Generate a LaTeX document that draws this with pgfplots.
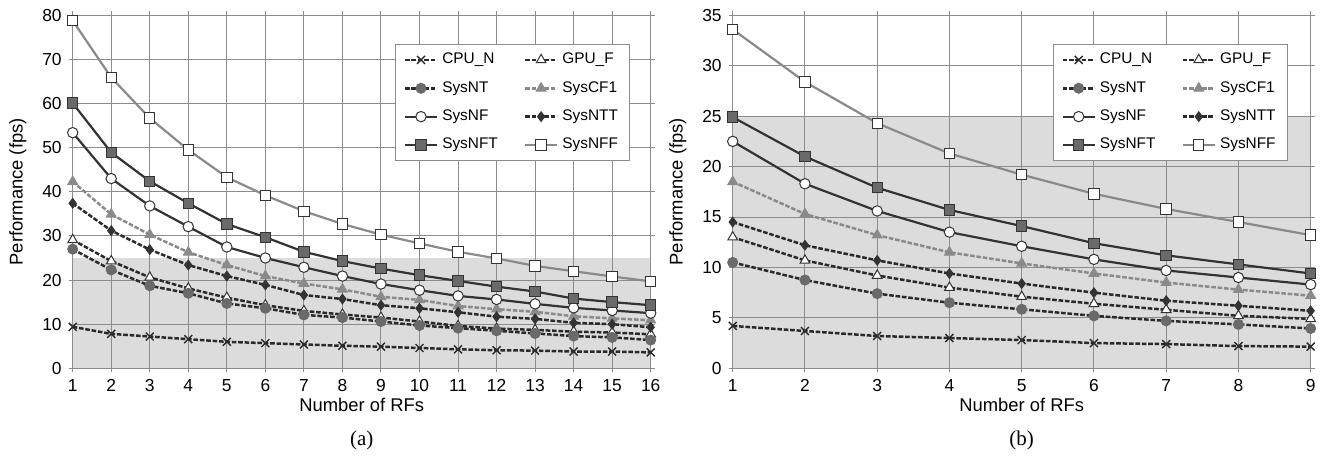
\documentclass[border=0pt]{standalone}
\usepackage{pgfplots}
\usepackage{pgfplotstable}
\usepackage{fontspec}
\setmainfont{Liberation Sans}
\newfontfamily\capfont{Liberation Serif}
\pgfplotsset{compat=1.18}

\definecolor{gridgray}{HTML}{8C8C8C}
\definecolor{shade}{HTML}{DCDCDC}
\definecolor{dk}{HTML}{333333}
\definecolor{dd}{HTML}{2A2A2A}
\definecolor{md}{HTML}{6A6A6A}
\definecolor{lt}{HTML}{8A8A8A}

% (a): frame rate against number of RFs, 1..16
\pgfplotstableread{
x  CPUN  GPUF  SysNT SysCF1 SysNF SysNTT SysNFT SysNFF
1  9.4   29.1  27.0  42.3   53.4  37.4   60.1   78.8
2  7.8   24.3  22.3  34.9   43.0  31.2   48.9   65.9
3  7.2   20.6  18.7  30.3   36.8  26.9   42.4   56.7
4  6.6   18.1  17.0  26.3   32.1  23.4   37.4   49.5
5  6.0   16.0  14.7  23.4   27.5  20.9   32.7   43.3
6  5.7   14.3  13.6  20.9   25.0  18.9   29.7   39.2
7  5.4   13.0  12.1  19.2   22.9  16.6   26.4   35.6
8  5.1   12.2  11.5  17.9   20.9  15.7   24.3   32.7
9  4.9   11.5  10.6  16.2   19.1  14.3   22.6   30.3
10 4.6   10.6  9.7   15.5   17.7  13.6   21.1   28.3
11 4.3   9.6   9.1   14.1   16.4  12.7   19.8   26.4
12 4.1   9.0   8.5   13.4   15.6  11.7   18.5   24.9
13 4.0   8.7   7.9   12.8   14.6  11.2   17.4   23.2
14 3.8   8.3   7.3   11.8   13.7  10.3   15.8   22.0
15 3.8   8.1   7.0   11.3   13.1  10.0   15.0   20.8
16 3.6   7.7   6.4   10.9   12.5  9.3    14.3   19.7
}\dataA

% (b): 1..9
\pgfplotstableread{
x  CPUN  GPUF  SysNT SysCF1 SysNF SysNTT SysNFT SysNFF
1  4.2   13.0  10.5  18.5   22.5  14.5   24.9   33.6
2  3.7   10.7  8.75  15.3   18.3  12.2   21.0   28.4
3  3.2   9.2   7.4   13.2   15.6  10.7   17.9   24.3
4  3.0   8.0   6.5   11.5   13.5  9.4    15.7   21.3
5  2.8   7.1   5.85  10.4   12.1  8.4    14.1   19.2
6  2.5   6.4   5.2   9.4    10.8  7.5    12.4   17.3
7  2.4   5.8   4.7   8.5    9.7   6.7    11.2   15.8
8  2.2   5.2   4.35  7.8    9.0   6.2    10.3   14.5
9  2.15  4.9   3.95  7.2    8.3   5.7    9.4    13.2
}\dataB

\pgfplotsset{
  rfs/.style={
    scale only axis,
    width=289pt, height=176.5pt,
    set layers=standard,
    ymin=0,
    grid=major,
    grid style={gridgray, line width=0.5pt},
    axis line style={gridgray, line width=0.5pt},
    tick style={gridgray, line width=0.5pt},
    tick align=outside, major tick length=2pt,
    xtick distance=1,
    /pgf/number format/assume math mode=true,
    tick label style={font=\fontsize{8.7}{10}\selectfont, black},
    label style={font=\fontsize{9.2}{11}\selectfont},
    xlabel={Number of RFs},
    ylabel={Performance (fps)},
    xlabel style={at={(axis description cs:0.5,-0.105)}, anchor=center},
    ylabel style={at={(axis description cs:-0.095,0.5)}, anchor=center},
    legend columns=2,
    legend cell align=left,
    legend style={draw=gridgray, fill=white, line width=0.5pt,
      font=\fontsize{7.7}{9}\selectfont,
      row sep=3.3pt, inner xsep=4pt, inner ysep=2.5pt,
      /tikz/every even column/.append style={column sep=11pt}},
    legend image code/.code={
      \draw[mark repeat=2, mark phase=2] plot coordinates {(0pt,0pt) (8pt,0pt) (16pt,0pt)};},
    every axis plot/.append style={line width=1.1pt},
  },
  dsh/.style={line width=1.25pt, dash pattern=on 2.3pt off 0.9pt},
  cpun/.style={dd, dsh, mark=x, mark size=2.8pt, mark options={solid, dd, line width=0.7pt}},
  gpuf/.style={dd, dsh, mark=triangle*, mark size=2.8pt, mark options={solid, fill=white, draw=dk, line width=0.5pt}},
  sysnt/.style={dd, dsh, mark=*, mark size=2.5pt, mark options={solid, fill=md, draw=md, line width=0.5pt}},
  syscf/.style={lt, dsh, mark=triangle*, mark size=2.8pt, mark options={solid, fill=lt, draw=lt, line width=0.5pt}},
  sysnf/.style={dk, solid, mark=*, mark size=2.6pt, mark options={fill=white, draw=dk, line width=0.5pt}},
  sysntt/.style={dd, dsh, mark=diamond*, mark size=2.4pt, mark options={solid, fill=dk, draw=dk, line width=0.5pt}},
  sysnft/.style={dk, solid, mark=square*, mark size=2.6pt, mark options={fill=md, draw=dk, line width=0.5pt}},
  sysnff/.style={lt, solid, mark=square*, mark size=2.6pt, mark options={fill=white, draw=dk, line width=0.5pt}},
}

\begin{document}
\begin{tikzpicture}

\begin{axis}[rfs, name=A, at={(0pt,0pt)},
  xmin=1, xmax=16, ymax=80, ytick={0,10,...,80},
  legend style={at={(0.965,0.92)}, anchor=north east}]
  \addplot[draw=none, fill=shade, forget plot, on layer=axis background] coordinates {(1,25) (16,25)} \closedcycle;
  \addplot[cpun]   table[x=x, y=CPUN]   {\dataA}; \addlegendentry{CPU\_N}
  \addplot[gpuf]   table[x=x, y=GPUF]   {\dataA}; \addlegendentry{GPU\_F}
  \addplot[sysnt]  table[x=x, y=SysNT]  {\dataA}; \addlegendentry{SysNT}
  \addplot[syscf]  table[x=x, y=SysCF1] {\dataA}; \addlegendentry{SysCF1}
  \addplot[sysnf]  table[x=x, y=SysNF]  {\dataA}; \addlegendentry{SysNF}
  \addplot[sysntt] table[x=x, y=SysNTT] {\dataA}; \addlegendentry{SysNTT}
  \addplot[sysnft] table[x=x, y=SysNFT] {\dataA}; \addlegendentry{SysNFT}
  \addplot[sysnff] table[x=x, y=SysNFF] {\dataA}; \addlegendentry{SysNFF}
\end{axis}
\node[font=\capfont\fontsize{10.5}{12}\selectfont] at ([yshift=-36pt]A.south) {(a)};

\begin{axis}[rfs, name=B, at={(330pt,0pt)},
  xmin=1, xmax=9, ymax=35, ytick={0,5,...,35},
  legend style={at={(0.961,0.92)}, anchor=north east}]
  \addplot[draw=none, fill=shade, forget plot, on layer=axis background] coordinates {(1,25) (9,25)} \closedcycle;
  \addplot[cpun]   table[x=x, y=CPUN]   {\dataB}; \addlegendentry{CPU\_N}
  \addplot[gpuf]   table[x=x, y=GPUF]   {\dataB}; \addlegendentry{GPU\_F}
  \addplot[sysnt]  table[x=x, y=SysNT]  {\dataB}; \addlegendentry{SysNT}
  \addplot[syscf]  table[x=x, y=SysCF1] {\dataB}; \addlegendentry{SysCF1}
  \addplot[sysnf]  table[x=x, y=SysNF]  {\dataB}; \addlegendentry{SysNF}
  \addplot[sysntt] table[x=x, y=SysNTT] {\dataB}; \addlegendentry{SysNTT}
  \addplot[sysnft] table[x=x, y=SysNFT] {\dataB}; \addlegendentry{SysNFT}
  \addplot[sysnff] table[x=x, y=SysNFF] {\dataB}; \addlegendentry{SysNFF}
\end{axis}
\node[font=\capfont\fontsize{10.5}{12}\selectfont] at ([yshift=-36pt]B.south) {(b)};

\pgfresetboundingbox
\useasboundingbox (-36.35pt,-44.85pt) rectangle (628.15pt,184.15pt);
\end{tikzpicture}
\end{document}
